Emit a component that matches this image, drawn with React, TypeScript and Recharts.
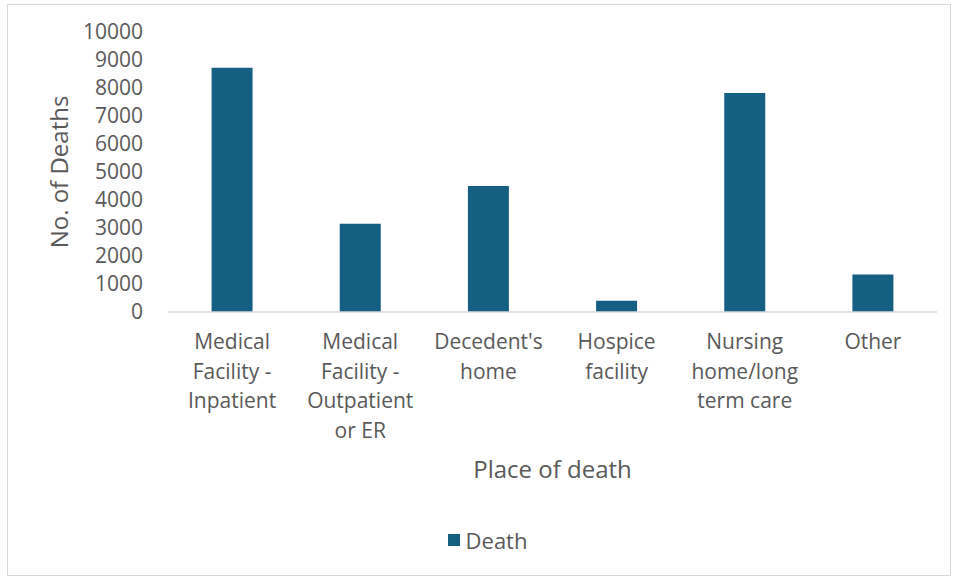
import { BarChart, Bar, XAxis, YAxis, Legend } from 'recharts';

const places = [
  'Medical Facility - Inpatient',
  'Medical Facility - Outpatient or ER',
  "Decedent's home",
  'Hospice facility',
  'Nursing home/long term care',
  'Other',
];
const placeLines = [
  ['Medical', 'Facility -', 'Inpatient'],
  ['Medical', 'Facility -', 'Outpatient', 'or ER'],
  ["Decedent's", 'home'],
  ['Hospice', 'facility'],
  ['Nursing', 'home/long', 'term care'],
  ['Other'],
];
const deaths = [8720, 3150, 4500, 400, 7820, 1340];
const yTicks = [0, 1000, 2000, 3000, 4000, 5000, 6000, 7000, 8000, 9000, 10000];

const data = places.map((place, i) => ({ place, lines: placeLines[i], Death: deaths[i] }));

const FONT = '"Open Sans", "Noto Sans", sans-serif';
const TEXT = '#595959';
const BAR = '#156082';

function PlaceTick(props: any) {
  const { x, y, payload, index } = props;
  const lines: string[] = placeLines[index] ?? [payload.value];
  return (
    <text x={x} y={y} textAnchor="middle" fill={TEXT} fontSize={21} fontFamily={FONT}>
      {lines.map((l, i) => (
        <tspan key={i} x={x} dy={i === 0 ? 29 : 29.5}>
          {l}
        </tspan>
      ))}
    </text>
  );
}

function YLabel(props: any) {
  const { viewBox } = props;
  const cx = viewBox.x + 20;
  const cy = viewBox.y + viewBox.height / 2;
  return (
    <text
      x={cx}
      y={cy}
      transform={`rotate(-90 ${cx} ${cy})`}
      textAnchor="middle"
      dominantBaseline="central"
      fill={TEXT}
      fontSize={24}
      fontFamily={FONT}
    >
      No. of Deaths
    </text>
  );
}

function LegendBox() {
  return (
    <div style={{ height: 30, display: 'flex', justifyContent: 'center', alignItems: 'center', fontFamily: FONT, fontSize: 22, color: TEXT }}>
      <span style={{ width: 12, height: 12, background: BAR, display: 'inline-block', marginRight: 6 }} />
      Death
    </div>
  );
}

export default function App() {
  return (
    <div
      style={{
        position: 'absolute',
        left: 7,
        top: 4,
        width: 942,
        height: 570,
        border: '1px solid #d9d9d9',
        background: '#fff',
      }}
    >
      <BarChart width={942} height={570} data={data} margin={{ top: 27, right: 13, bottom: 20, left: 30 }} barCategoryGap="34%">
        <XAxis
          dataKey="place"
          height={213}
          interval={0}
          tickLine={false}
          axisLine={{ stroke: '#d9d9d9', strokeWidth: 1.5 }}
          tick={<PlaceTick />}
          label={{ value: 'Place of death', position: 'insideBottom', offset: 47, fill: TEXT, fontSize: 24, fontFamily: FONT }}
        />
        <YAxis
          width={130}
          domain={[0, 10000]}
          ticks={yTicks}
          interval={0}
          axisLine={false}
          tickLine={false}
          tickSize={0}
          tickMargin={25}
          tick={{ fill: TEXT, fontSize: 21, fontFamily: FONT }}
          label={<YLabel />}
        />
        <Legend verticalAlign="bottom" content={<LegendBox />} />
        <Bar dataKey="Death" fill={BAR} isAnimationActive={false} />
      </BarChart>
    </div>
  );
}
